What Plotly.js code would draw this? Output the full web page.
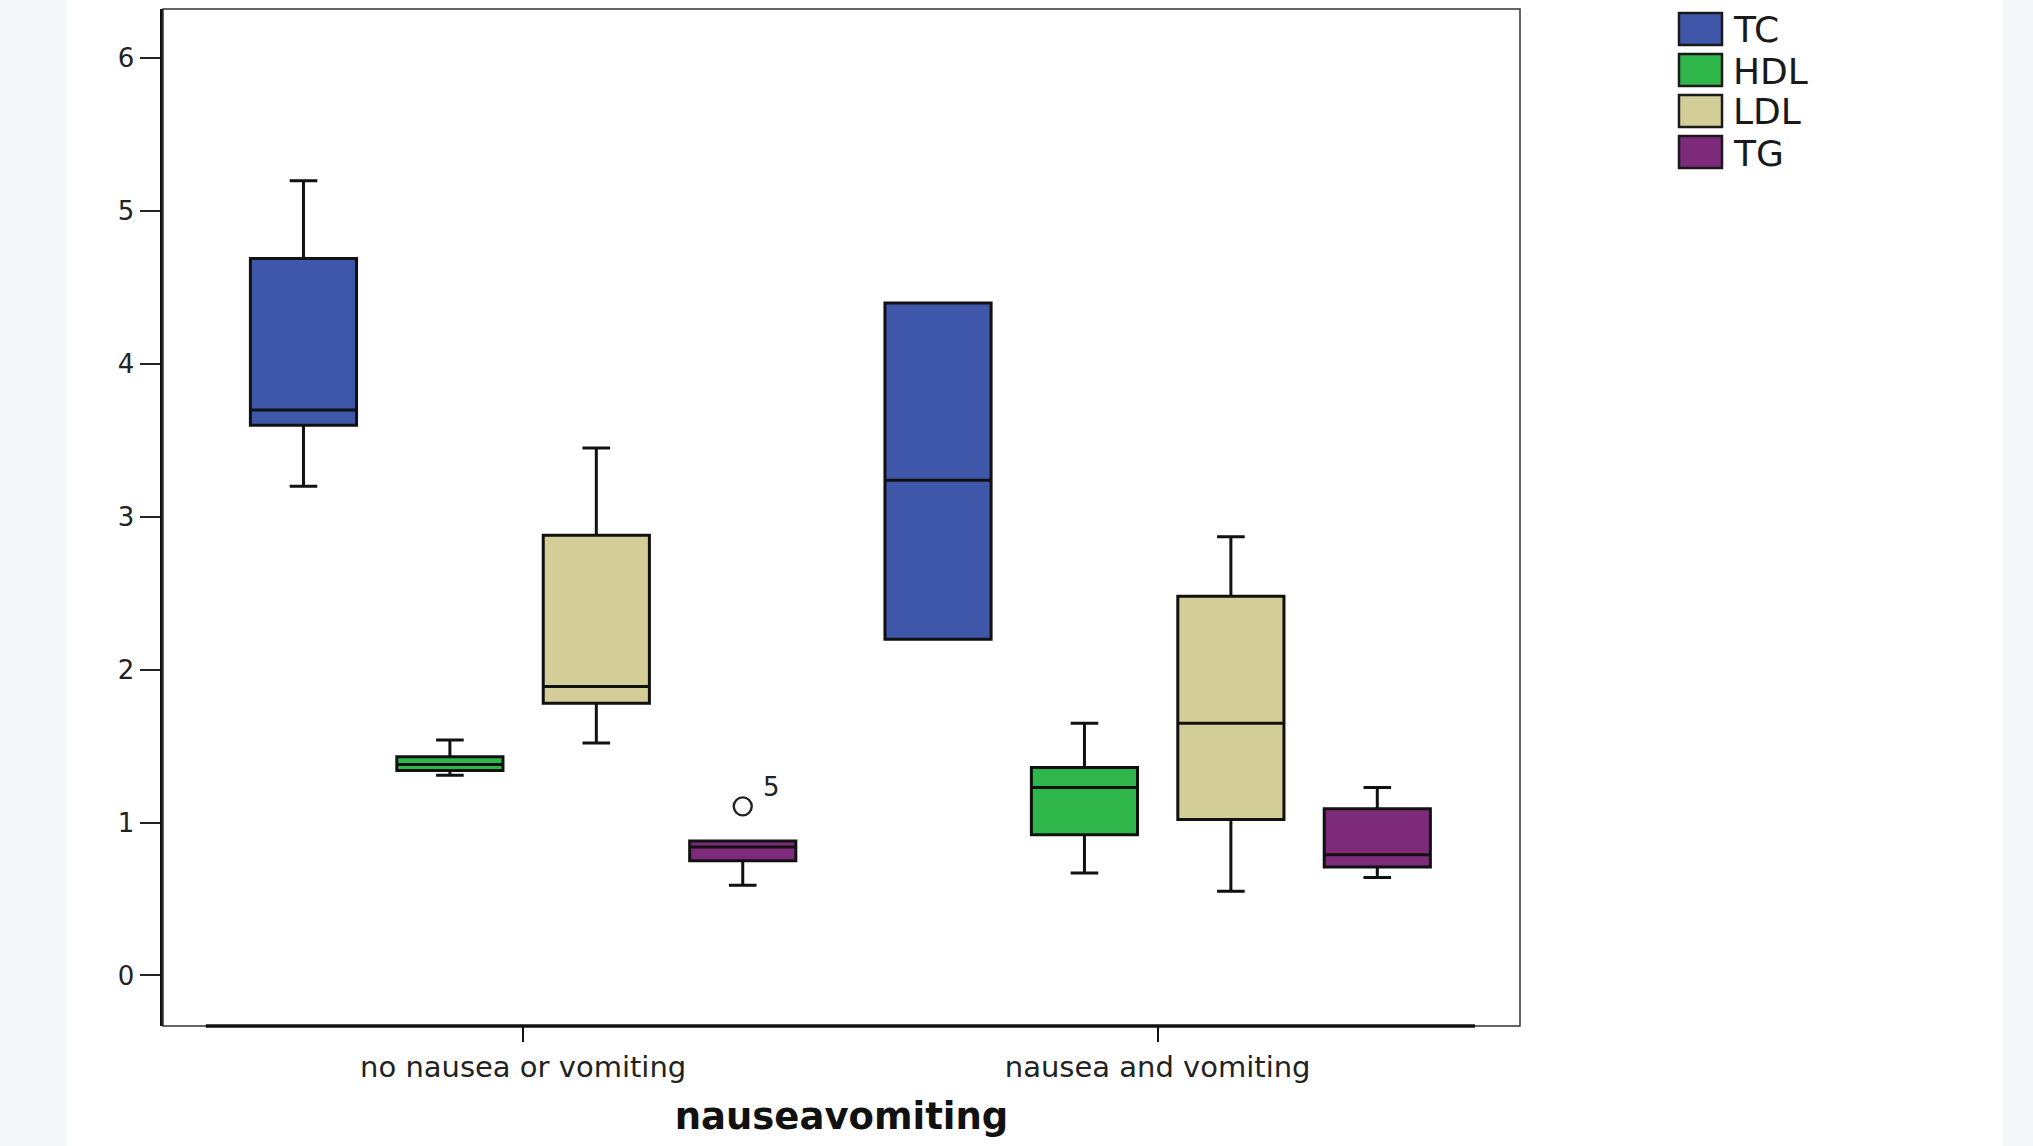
<!DOCTYPE html>
<html>
<head>
<meta charset="utf-8">
<script src="https://cdn.plot.ly/plotly-3.0.1.min.js"></script>
<style>
  html, body { margin: 0; padding: 0; background: #f4f8f9; overflow: hidden; }
  #sheet { position: absolute; left: 67px; top: 0; width: 1936px; height: 1146px; background: #ffffff; }
  #chart { position: absolute; left: 0; top: 0; width: 2033px; height: 1146px; }
</style>
</head>
<body>
<div id="sheet"></div>
<div id="chart"></div>
<script>
// ---- data ----
const categories = ["no nausea or vomiting", "nausea and vomiting"];
const seriesNames = ["TC", "HDL", "LDL", "TG"];
const seriesColors = ["#3e57a9", "#2fb64b", "#d3ce97", "#7e2a7b"];

const tcLower  = [3.20, 2.20];
const tcQ1     = [3.60, 2.20];
const tcMedian = [3.70, 3.24];
const tcQ3     = [4.69, 4.40];
const tcUpper  = [5.20, 4.40];

const hdlLower  = [1.31, 0.67];
const hdlQ1     = [1.34, 0.92];
const hdlMedian = [1.38, 1.23];
const hdlQ3     = [1.43, 1.36];
const hdlUpper  = [1.54, 1.65];

const ldlLower  = [1.52, 0.55];
const ldlQ1     = [1.78, 1.02];
const ldlMedian = [1.89, 1.65];
const ldlQ3     = [2.88, 2.48];
const ldlUpper  = [3.45, 2.87];

const tgLower  = [0.59, 0.64];
const tgQ1     = [0.75, 0.71];
const tgMedian = [0.84, 0.79];
const tgQ3     = [0.88, 1.09];
const tgUpper  = [0.88, 1.23];
const tgOutliers = [[1.106], []];
const tgOutlierLabels = ["5"];

const yTicks = [0, 1, 2, 3, 4, 5, 6];
const xTitle = "nauseavomiting";

// ---- layout parameters ----
const BOXGAP = 0.077;
const BOXGROUPGAP = 0.275;
const ML = 163, MT = 9, MR = 513, MB = 120, W = 2033, H = 1146;
const plotW = W - ML - MR, plotH = H - MT - MB;
const px2paperX = p => (p - ML) / plotW;
const px2paperY = p => (H - MB - p) / plotH;

const stats = [
  [tcLower, tcQ1, tcMedian, tcQ3, tcUpper],
  [hdlLower, hdlQ1, hdlMedian, hdlQ3, hdlUpper],
  [ldlLower, ldlQ1, ldlMedian, ldlQ3, ldlUpper],
  [tgLower, tgQ1, tgMedian, tgQ3, tgUpper]
];

const traces = stats.map((s, i) => {
  const t = {
    type: "box",
    name: seriesNames[i],
    x: categories,
    lowerfence: s[0], q1: s[1], median: s[2], q3: s[3], upperfence: s[4],
    fillcolor: seriesColors[i],
    line: { color: "#111111", width: 3 },
    whiskerwidth: 0.26,
    boxpoints: false,
    showlegend: false,
    hoverinfo: "skip"
  };
  if (seriesNames[i] === "TG") {
    t.y = tgOutliers;
    t.boxpoints = "outliers";
    t.marker = { symbol: "circle-open", size: 18, color: "#222222", line: { width: 2.4, color: "#222222" } };
  }
  return t;
});

// legend drawn manually (large swatches like the original)
const shapes = [];
const annotations = [];
const legX0 = 1679, legX1 = 1722, legTop = 13, legPitch = 41, legH = 32;
seriesNames.forEach((n, i) => {
  const top = legTop + i * legPitch;
  shapes.push({
    type: "rect", xref: "paper", yref: "paper",
    x0: px2paperX(legX0), x1: px2paperX(legX1),
    y0: px2paperY(top + legH), y1: px2paperY(top),
    fillcolor: seriesColors[i], line: { color: "#1a1a1a", width: 2.5 }
  });
  annotations.push({
    xref: "paper", yref: "paper", x: px2paperX(1731), y: px2paperY(top + legH / 2 + 1),
    xanchor: "left", yanchor: "middle", text: n, showarrow: false,
    font: { family: "DejaVu Sans", size: 36, color: "#1a1a1a" }
  });
});

// plot frame
shapes.push({ type: "rect", xref: "paper", yref: "paper", x0: 0, x1: 1, y0: 0, y1: 1,
  line: { color: "#333333", width: 1.5 }, layer: "above" });
// thick category axis line spanning the categories
shapes.push({ type: "line", xref: "x", yref: "paper", x0: -0.5, x1: categories.length - 0.5, y0: 0, y1: 0,
  line: { color: "#111111", width: 3.5 }, layer: "above" });

// outlier case label
const tgIndex = seriesNames.indexOf("TG");
const tgOffset = (1 - BOXGAP) * (-0.5 + (tgIndex + 0.5) / seriesNames.length);
tgOutliers.forEach((arr, ci) => {
  arr.forEach((v, k) => {
    annotations.push({
      xref: "x", yref: "y", x: ci + tgOffset, y: v, text: tgOutlierLabels[k],
      showarrow: false, xshift: 29, yshift: 19,
      font: { family: "DejaVu Sans", size: 26, color: "#222222" }
    });
  });
});

const layout = {
  width: W, height: H,
  margin: { l: ML, r: MR, t: MT, b: MB, pad: 0 },
  paper_bgcolor: "rgba(0,0,0,0)",
  plot_bgcolor: "#ffffff",
  boxmode: "group",
  boxgap: BOXGAP,
  boxgroupgap: BOXGROUPGAP,
  showlegend: false,
  xaxis: {
    type: "category",
    range: [-0.5675, 1.571],
    showline: false, showgrid: false, zeroline: false,
    ticks: "outside", ticklen: 15, tickwidth: 2, tickcolor: "#111111",
    tickfont: { family: "DejaVu Sans", size: 29, color: "#222222" },
    title: { text: xTitle, standoff: 20, font: { family: "DejaVu Sans", size: 37, color: "#111111", weight: "bold" } },
    automargin: false
  },
  yaxis: {
    range: [-0.331, 6.323],
    tickvals: yTicks,
    showline: true, linecolor: "#111111", linewidth: 3.5,
    showgrid: false, zeroline: false,
    ticks: "outside", ticklen: 20, tickwidth: 2, tickcolor: "#222222",
    tickfont: { family: "DejaVu Sans", size: 26, color: "#222222" },
    automargin: false
  },
  shapes: shapes,
  annotations: annotations
};

Plotly.newPlot("chart", traces, layout, { staticPlot: true, displayModeBar: false });
</script>
</body>
</html>
